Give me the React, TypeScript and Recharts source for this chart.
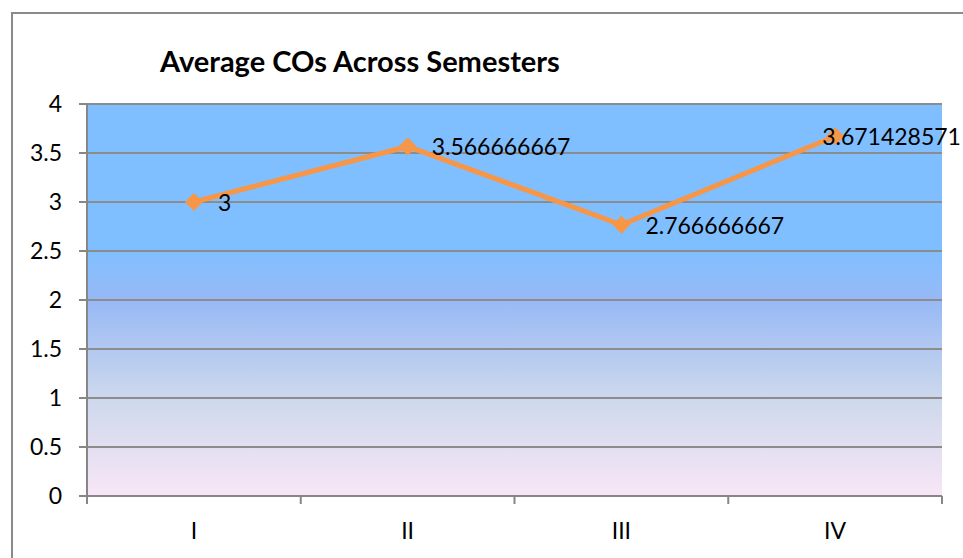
import React from 'react';
import { LineChart, Line, XAxis, YAxis, CartesianGrid, LabelList } from 'recharts';

const semesters = ['I', 'II', 'III', 'IV'];
const averages = [3, 3.566666667, 2.766666667, 3.671428571];
const yTicks = [0, 0.5, 1, 1.5, 2, 2.5, 3, 3.5, 4];
const xTicks = [0, 0.5, 1, 1.5, 2, 2.5, 3, 3.5, 4];

const data = semesters.map((s, i) => ({ x: i + 0.5, name: s, value: averages[i] }));

const FONT = 'Lato, "Open Sans", sans-serif';
const AXIS = '#878787';

const XTick = (props: any) => {
  const { x, y, payload } = props;
  const v = payload.value;
  if (Number.isInteger(v)) {
    return <line x1={x} x2={x} y1={y} y2={y + 8} stroke={AXIS} strokeWidth={2} />;
  }
  const idx = Math.floor(v);
  return (
    <text x={x} y={y + 43} textAnchor="middle" fontFamily={FONT} fontSize={23} fill="#000">
      {semesters[idx]}
    </text>
  );
};

const YTick = (props: any) => {
  const { x, y, payload } = props;
  return (
    <g>
      <line x1={x - 8} x2={x} y1={y} y2={y} stroke={AXIS} strokeWidth={2} />
      <text x={x - 25} y={y + 8} textAnchor="end" fontFamily={FONT} fontSize={23} fill="#000">
        {payload.value}
      </text>
    </g>
  );
};

const Diamond = (props: any) => {
  const { cx, cy } = props;
  const r = 9;
  return (
    <path
      d={`M${cx},${cy - r} L${cx + r},${cy} L${cx},${cy + r} L${cx - r},${cy} Z`}
      fill="#F79646"
    />
  );
};

const DataLabel = (props: any) => {
  const { x, y, value, index } = props;
  const last = index === averages.length - 1;
  return (
    <text
      x={last ? x - 13 : x + 24}
      y={y + 9}
      textAnchor="start"
      fontFamily={FONT}
      fontSize={23}
      fill="#000"
    >
      {value}
    </text>
  );
};

export default function App() {
  return (
    <div
      style={{
        position: 'fixed',
        left: 0,
        top: 0,
        width: 963,
        height: 558,
        overflow: 'hidden',
        background: '#fff',
      }}
    >
      <div
        style={{
          position: 'absolute',
          left: 11,
          top: 12,
          width: 1000,
          height: 600,
          border: '2px solid #8a8a8a',
        }}
      />
      <div
        style={{
          position: 'absolute',
          left: 160,
          top: 43,
          fontFamily: FONT,
          fontWeight: 'bold',
          fontSize: 29,
          lineHeight: '36px',
          color: '#000',
          whiteSpace: 'nowrap',
        }}
      >
        Average COs Across Semesters
      </div>
      <div style={{ position: 'absolute', left: 0, top: 0 }}>
        <LineChart
          width={963}
          height={558}
          data={data}
          margin={{ top: 104, right: 21, left: 0, bottom: 0 }}
        >
          <defs>
            <linearGradient id="plotBg" x1="0" y1="0" x2="0" y2="1">
              <stop offset="0" stopColor="#80BFFF" />
              <stop offset="0.37" stopColor="#80BFFF" />
              <stop offset="0.5" stopColor="#97B9F6" />
              <stop offset="0.75" stopColor="#CDD8EC" />
              <stop offset="1" stopColor="#F8E6F6" />
            </linearGradient>
          </defs>
          <CartesianGrid
            vertical={false}
            fill="url(#plotBg)"
            fillOpacity={1}
            stroke="#8c8c8c"
            strokeWidth={2}
          />
          <XAxis
            type="number"
            dataKey="x"
            domain={[0, 4]}
            ticks={xTicks}
            interval={0}
            height={62}
            axisLine={{ stroke: AXIS, strokeWidth: 2 }}
            tickLine={false}
            tickSize={0}
            tickMargin={0}
            tick={<XTick />}
          />
          <YAxis
            type="number"
            domain={[0, 4]}
            ticks={yTicks}
            interval={0}
            width={87}
            axisLine={{ stroke: AXIS, strokeWidth: 2 }}
            tickLine={false}
            tickSize={0}
            tickMargin={0}
            tick={<YTick />}
          />
          <Line
            type="linear"
            dataKey="value"
            stroke="#F79646"
            strokeWidth={5}
            dot={<Diamond />}
            activeDot={false}
            isAnimationActive={false}
          >
            <LabelList dataKey="value" content={<DataLabel />} />
          </Line>
        </LineChart>
      </div>
    </div>
  );
}
